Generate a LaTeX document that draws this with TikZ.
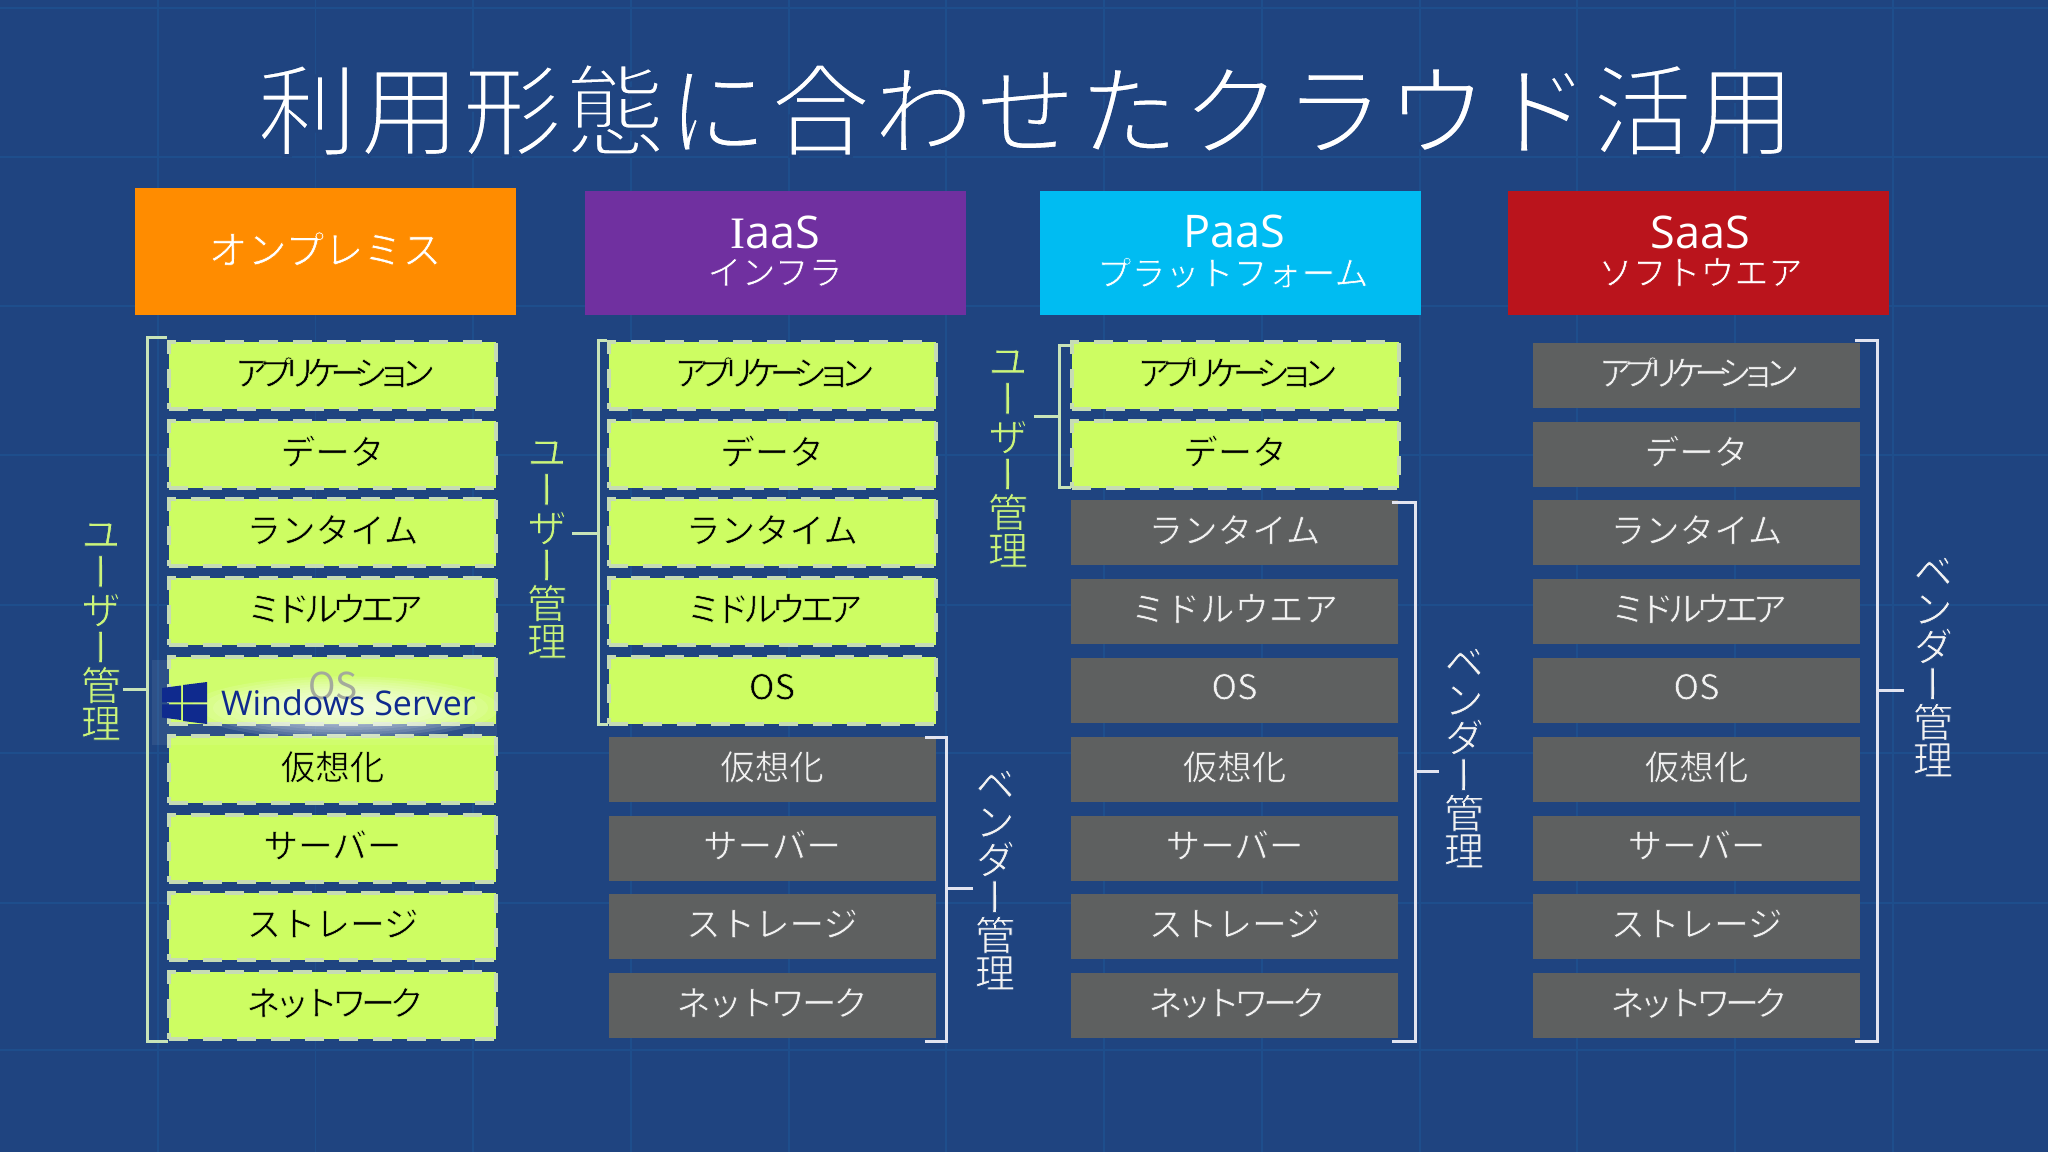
\documentclass[tikz,border=0pt]{standalone}
\usepackage{fontspec}
\setmainfont{Noto Sans CJK JP}
\newfontfamily\cjkf{Noto Sans CJK JP}
\newfontfamily\vertf[RawFeature=+vert]{Noto Sans CJK JP}
\newfontfamily\latf{Open Sans}
\newfontfamily\serf{Liberation Serif}
\definecolor{bgc}{HTML}{1F4480}
\definecolor{gridc}{HTML}{1E4E8C}
\definecolor{limec}{HTML}{CDFD62}
\definecolor{dashc}{HTML}{C6DCB4}
\definecolor{greyc}{HTML}{5E6060}
\definecolor{userc}{HTML}{CBF57A}
\definecolor{brkU}{HTML}{C8E4B8}
\definecolor{brkV}{HTML}{E2E4F0}
\definecolor{wsc}{HTML}{0F2A8E}
\definecolor{osc}{HTML}{A3AA9C}
% thin the glyphs: fill them as usual, then stroke their outline in the ground colour
\newcommand{\thinned}[3]{\special{pdf:code 2 Tr #1 w #2 RG}#3\special{pdf:code 0 Tr}}
\newcommand{\onbg}{0.122 0.267 0.502}
\newcommand{\onlime}{0.804 0.992 0.384}
\newcommand{\ongrey}{0.369 0.376 0.376}
\newcommand{\tight}[2]{{\addfontfeature{LetterSpace=#1}#2}}
\newcommand{\appT}{\kern5pt\tight{-31}{アプリケーション}}
\newcommand{\midT}{\kern5pt\tight{-18}{ミドルウエア}}
\newcommand{\netT}{\kern5pt\tight{-17}{ネットワーク}}
\newcommand{\netW}{\tight{-9}{ネットワーク}}
\tikzset{
  rowlabel/.style={font=\cjkf\fontsize{34.5}{40}\selectfont, inner sep=0pt},
  limebox/.style={rowlabel, fill=limec, draw=dashc, line width=4pt, dash pattern=on 19pt off 15pt, minimum width=327pt, minimum height=67pt, text=black},
  greybox/.style={rowlabel, fill=greyc, minimum width=327pt, minimum height=65pt, text=white!95!black},
  headbox/.style={minimum width=381pt, minimum height=124pt, inner sep=0pt, text=white, align=center},
  vlab/.style={font=\vertf\fontsize{40}{37.8}\selectfont, inner sep=0pt, align=center},
  brU/.style={draw=brkU, line width=3pt},
  brV/.style={draw=brkV, line width=3pt},
}
\newcommand{\limetxt}[1]{\raisebox{8pt}{\thinned{0.5}{\onlime}{#1}}}
\newcommand{\greytxt}[1]{\raisebox{8pt}{\thinned{0.5}{\ongrey}{#1}}}
\newcommand{\headtxt}[3]{{\latf\fontsize{45}{45}\selectfont #1}\\[8pt]{\cjkf\fontsize{34}{38}\selectfont\thinned{0.6}{#3}{#2}\rule[-5pt]{0pt}{1pt}}}
\begin{document}
\begin{tikzpicture}[x=1pt,y=-1pt]
\useasboundingbox (0,0) rectangle (2048,1152);
\fill[bgc] (0,0) rectangle (2048,1152);
% grid
\foreach \gx in {158,315.5,473,631,789,946,1104,1262,1420,1577,1735,1893}
  \draw[gridc,line width=1.5pt] (\gx,0) -- (\gx,1152);
\foreach \gy in {8,157,306,455,605,753,903,1050}
  \draw[gridc,line width=1.5pt] (0,\gy) -- (2048,\gy);
% title
\node[text=white,inner sep=0pt] (title) at (1026,110) {\cjkf\addfontfeature{LetterSpace=2.7}\fontsize{100}{110}\selectfont\thinned{3}{\onbg}{利用形態に合わせたクラウド活用}};
% headers
\node[headbox,fill={rgb,255:red,255;green,140;blue,0},minimum height=127pt] (h1) at (325,251.5) {\raisebox{7pt}{\cjkf\fontsize{39}{44}\selectfont\thinned{0.6}{1 0.549 0}{オンプレミス}}};
\node[headbox,fill={rgb,255:red,112;green,48;blue,160}] (h2) at (775,253) {\headtxt{{\serf I}aaS}{インフラ}{0.439 0.188 0.627}};
\node[headbox,fill={rgb,255:red,0;green,188;blue,242}] (h3) at (1230.5,253) {\kern8pt\headtxt{PaaS}{\kern5pt プラットフォーム}{0 0.737 0.949}};
\node[headbox,fill={rgb,255:red,186;green,20;blue,28}] (h4) at (1698.5,253) {\kern4pt\headtxt{SaaS}{\kern4pt ソフトウエア}{0.729 0.078 0.11}};
% rows
\def\ry#1{375.3+78.8*#1}
% column 1
\foreach \i/\t in {0/\appT,1/データ,2/ランタイム,3/\midT,5/仮想化,6/サーバー,7/ストレージ,8/\netT}
  \node[limebox] (a\i) at (332.5,{\ry{\i}}) {\limetxt{\t}};
\node[limebox] (a4) at (332.5,{\ry{4}}) {};
% column 2
\foreach \i/\t in {0/\appT,1/データ,2/ランタイム,3/\midT,4/OS}
  \node[limebox] (b\i) at (772,{\ry{\i}}) {\limetxt{\t}};
\foreach \i/\t in {5/仮想化,6/サーバー,7/ストレージ,8/\netW}
  \node[greybox] (b\i) at (772,{\ry{\i}}) {\greytxt{\t}};
% column 3
\foreach \i/\t in {0/\appT,1/データ}
  \node[limebox] (c\i) at (1235,{\ry{\i}}) {\limetxt{\t}};
\foreach \i/\t in {2/ランタイム,3/ミドルウエア,4/OS,5/仮想化,6/サーバー,7/ストレージ,8/\netT}
  \node[greybox] (c\i) at (1234.5,{\ry{\i}}) {\greytxt{\t}};
% column 4
\foreach \i/\t in {0/\appT,1/データ,2/ランタイム,3/\midT,4/OS,5/仮想化,6/サーバー,7/ストレージ,8/\netT}
  \node[greybox] (d\i) at (1696.5,{\ry{\i}}) {\greytxt{\t}};
% Windows Server overlay on the OS row of column 1
\fill[white,opacity=.07] (152,660) rectangle (497,745);
\begin{scope}
  \clip (166,660) rectangle (497,742);
  \foreach \k in {1,...,12}
    \fill[white,opacity=.11] (345,708) ellipse ({165-11*\k} and {34-2.4*\k});
\end{scope}
\node[text=osc,font=\cjkf\fontsize{37}{40}\selectfont,inner sep=0pt] (osgrey) at (333,686) {OS};
\fill[wsc] (162,688) -- (181,685.5) -- (181,702.3) -- (162,702.3) -- cycle;
\fill[wsc] (183,685) -- (207,682) -- (207,702.3) -- (183,702.3) -- cycle;
\fill[wsc] (162,704.3) -- (181,704.3) -- (181,720) -- (162,717.5) -- cycle;
\fill[wsc] (183,704.3) -- (207,704.3) -- (207,724) -- (183,721) -- cycle;
\node[text=wsc,font=\latf\fontsize{34}{40}\selectfont,inner sep=0pt] (ws) at (348.5,703) {Windows Server};
% brackets
\draw[brU] (a0.north west) ++(0,-2) -| (147,1041) -- (168,1041);
\coordinate (t1) at (123,689);
\draw[brU] (t1) -- (147,689);
\draw[brU] (b0.north west) ++(0,1) -| (598,724) -- (608,724);
\coordinate (t2) at (572,533);
\draw[brU] (t2) -- (598,533);
\draw[brU] (1071,345) -- (1059,345) |- (1071,487);
\coordinate (t3) at (1034,416);
\draw[brU] (t3) -- (1059,416);
\draw[brV] (925,737) -- (946,737) |- (925,1041);
\coordinate (t4) at (973,888);
\draw[brV] (t4) -- (946,888);
\draw[brV] (1392,502) -- (1415,502) |- (1392,1041);
\coordinate (t5) at (1439,771);
\draw[brV] (t5) -- (1415,771);
\draw[brV] (1855,340) -- (1877,340) |- (1855,1041);
\coordinate (t6) at (1904,690);
\draw[brV] (t6) -- (1877,690);
% vertical labels
\node[vlab,text=userc] (u1) at (101,631.5) {\thinned{0.7}{\onbg}{ユ\\ー\\ザ\\ー\\管\\理}};
\node[vlab,text=userc] (u2) at (547,549.5) {\thinned{0.7}{\onbg}{ユ\\ー\\ザ\\ー\\管\\理}};
\node[vlab,text=userc] (u3) at (1008,458.5) {\thinned{0.7}{\onbg}{ユ\\ー\\ザ\\ー\\管\\理}};
\node[vlab,text=white!95!black] (v2) at (995,880) {\thinned{0.7}{\onbg}{ベ\\ン\\ダ\\ー\\管\\理}};
\node[vlab,text=white!95!black] (v3) at (1464,758) {\thinned{0.7}{\onbg}{ベ\\ン\\ダ\\ー\\管\\理}};
\node[vlab,text=white!95!black] (v4) at (1933,667) {\thinned{0.7}{\onbg}{ベ\\ン\\ダ\\ー\\管\\理}};
\end{tikzpicture}
\end{document}
